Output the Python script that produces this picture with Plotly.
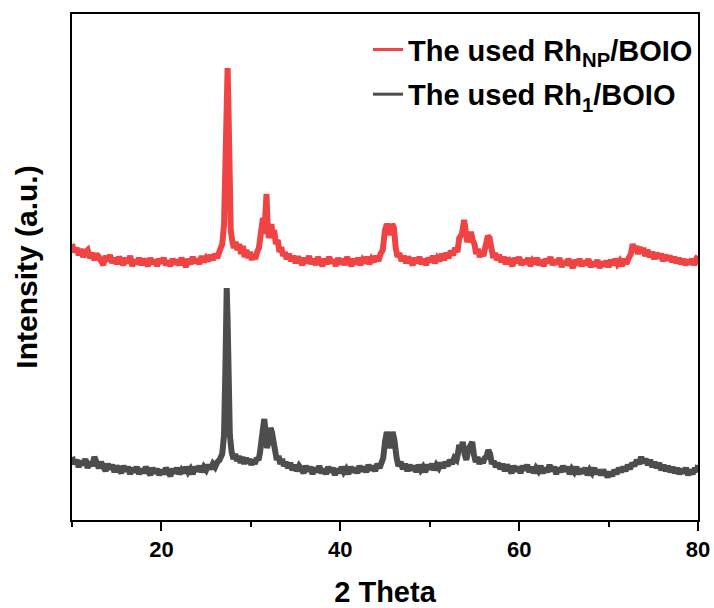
import plotly.graph_objects as go

# ---- data: (2 theta, intensity), arbitrary units, traces offset ----
rh_np_points = [
    (10.0,276),(10.25,268),(10.5,272),(10.75,265),(11.0,271),(11.25,263),(11.5,268),(11.75,270),(12.0,262),(12.25,267),
    (12.5,260),(12.75,266),(13.0,263),(13.25,257),(13.5,255),(13.75,264),(14.0,259),(14.25,265),(14.5,257),(14.75,262),
    (15.0,256),(15.25,263),(15.5,259),(15.75,255),(16.0,262),(16.25,257),(16.5,264),(16.75,254),(17.0,260),(17.25,256),
    (17.5,262),(17.75,255),(18.0,261),(18.25,258),(18.5,254),(18.75,262),(19.0,256),(19.25,260),(19.5,254),(19.75,261),
    (20.0,257),(20.25,262),(20.5,255),(20.75,259),(21.0,254),(21.25,261),(21.5,256),(21.75,260),(22.0,255),(22.25,262),
    (22.5,257),(22.75,253),(23.0,261),(23.25,256),(23.5,263),(23.75,257),(24.0,261),(24.25,256),(24.5,264),(24.75,258),
    (25.0,262),(25.25,259),(25.5,265),(25.75,260),(26.0,266),(26.25,262),(26.5,269),
    (26.8,276),(27.0,295),(27.15,350),(27.3,440),(27.4,452),(27.5,410),(27.6,330),(27.75,290),(27.9,280),(28.1,272),
    (28.3,278),(28.5,270),(28.7,276),(28.9,266),(29.1,274),(29.3,263),(29.5,270),(29.7,262),(29.9,268),(30.1,260),
    (30.3,266),(30.5,261),(30.7,268),(30.9,272),(31.05,282),(31.2,290),(31.35,302),(31.5,286),(31.65,315),(31.75,326),
    (31.85,300),(32.0,282),(32.15,288),(32.3,296),(32.45,282),(32.6,290),(32.8,276),(33.0,280),(33.2,268),(33.4,273),
    (33.6,264),(33.8,268),
    (34.0,261),(34.25,266),(34.5,259),(34.75,264),(35.0,257),(35.25,263),(35.5,260),(35.75,255),(36.0,262),(36.25,257),
    (36.5,264),(36.75,256),(37.0,261),(37.25,255),(37.5,263),(37.75,258),(38.0,254),(38.25,261),(38.5,256),(38.75,263),
    (39.0,257),(39.25,260),(39.5,254),(39.75,262),(40.0,256),(40.25,261),(40.5,255),(40.75,263),(41.0,257),(41.25,254),
    (41.5,261),(41.75,256),(42.0,262),(42.25,255),(42.5,260),(42.75,257),(43.0,263),(43.25,256),(43.5,261),(43.75,258),
    (44.0,264),(44.25,259),(44.5,266),(44.75,270),
    (45.0,290),(45.2,296),(45.4,292),(45.6,285),(45.8,296),(46.0,292),(46.2,272),(46.4,263),
    (46.6,267),(46.85,259),(47.1,264),(47.35,257),(47.6,263),(47.85,258),(48.1,255),(48.35,262),(48.6,257),(48.85,263),
    (49.1,256),(49.35,261),(49.6,255),(49.85,262),(50.1,258),(50.35,264),(50.6,257),(50.85,262),(51.1,259),(51.35,266),
    (51.6,260),(51.85,267),(52.1,262),(52.35,269),(52.6,265),(52.85,272),(53.1,268),
    (53.3,282),(53.6,286),(53.85,300),(54.0,285),(54.2,278),(54.4,283),(54.6,288),(54.8,280),(55.0,276),(55.2,266),
    (55.4,271),(55.6,263),(55.8,268),(56.0,264),(56.2,272),(56.5,284),(56.7,282),(56.9,270),(57.1,262),(57.3,267),
    (57.5,260),(57.75,265),(58.0,258),(58.25,263),(58.5,256),(58.75,262),(59.0,259),(59.25,254),(59.5,262),(59.75,257),
    (60.0,263),(60.25,255),(60.5,260),(60.75,256),(61.0,262),(61.25,254),(61.5,259),(61.75,256),(62.0,262),(62.25,255),
    (62.5,260),(62.75,254),(63.0,261),(63.25,257),(63.5,263),(63.75,255),(64.0,260),(64.25,256),(64.5,262),(64.75,253),
    (65.0,259),(65.25,255),(65.5,261),(65.75,256),(66.0,252),(66.25,260),(66.5,255),(66.75,261),(67.0,254),(67.25,259),
    (67.5,255),(67.75,261),(68.0,253),(68.25,258),(68.5,254),(68.75,260),(69.0,252),(69.25,258),(69.5,254),(69.75,259),
    (70.0,253),(70.25,260),(70.5,255),(70.75,261),(71.0,256),(71.25,259),(71.5,254),(71.75,261),(72.0,256),(72.25,262),
    (72.5,266),(72.7,276),(72.9,268),(73.1,274),(73.3,266),(73.5,273),(73.7,267),(73.9,272),(74.1,264),(74.35,270),
    (74.6,263),(74.85,268),(75.1,261),(75.35,267),(75.6,262),(75.85,266),(76.1,259),(76.35,265),(76.6,260),(76.85,264),
    (77.1,258),(77.35,263),(77.6,257),(77.85,262),(78.1,256),(78.35,261),(78.6,255),(78.85,260),(79.1,256),(79.35,261),
    (79.6,255),(79.85,262),(80.0,264),
]

rh_1_points = [
    (10.0,63),(10.25,56),(10.5,60),(10.75,53),(11.0,59),(11.25,55),(11.5,61),(11.75,52),(12.0,58),(12.25,54),
    (12.5,63),(12.75,56),(13.0,52),(13.25,58),(13.5,54),(13.75,49),(14.0,56),(14.25,51),(14.5,55),(14.75,48),
    (15.0,54),(15.25,50),(15.5,47),(15.75,54),(16.0,49),(16.25,53),(16.5,46),(16.75,52),(17.0,48),(17.25,53),
    (17.5,46),(17.75,51),(18.0,47),(18.25,53),(18.5,49),(18.75,45),(19.0,52),(19.25,47),(19.5,51),(19.75,45),
    (20.0,50),(20.25,46),(20.5,52),(20.75,47),(21.0,44),(21.25,51),(21.5,47),(21.75,52),(22.0,46),(22.25,50),
    (22.5,47),(22.75,53),(23.0,48),(23.25,51),(23.5,46),(23.75,53),(24.0,49),(24.25,54),(24.5,48),(24.75,53),
    (25.0,50),(25.25,55),(25.5,51),(25.75,56),(26.0,53),(26.25,58),(26.5,60),
    (26.8,66),(27.0,85),(27.15,150),(27.25,215),(27.3,232),(27.4,200),(27.5,130),(27.65,85),(27.85,68),(28.05,61),
    (28.25,66),(28.45,59),(28.65,64),(28.85,57),(29.05,63),(29.25,56),(29.45,62),(29.65,57),(29.85,61),(30.05,55),
    (30.25,60),(30.45,56),(30.65,62),(30.85,60),(31.0,66),(31.2,78),(31.35,84),(31.5,101),(31.65,88),(31.8,72),
    (32.0,78),(32.2,92),(32.35,88),(32.5,74),(32.7,70),(32.9,60),(33.1,64),(33.3,56),(33.5,61),(33.7,54),(33.9,58),
    (34.15,52),(34.4,57),(34.65,50),(34.9,55),(35.15,49),(35.4,54),(35.65,51),(35.9,47),(36.15,54),(36.4,49),
    (36.65,53),(36.9,46),(37.15,52),(37.4,48),(37.65,54),(37.9,47),(38.15,51),(38.4,46),(38.65,53),(38.9,48),
    (39.15,52),(39.4,45),(39.65,51),(39.9,47),(40.15,53),(40.4,48),(40.65,51),(40.9,46),(41.15,53),(41.4,48),
    (41.65,52),(41.9,47),(42.15,54),(42.4,49),(42.65,53),(42.9,48),(43.15,55),(43.4,50),(43.65,54),(43.9,49),
    (44.15,56),(44.4,52),(44.6,57),
    (44.8,62),(45.0,78),(45.2,88),(45.4,80),(45.6,72),(45.85,88),(46.05,80),(46.3,62),(46.5,54),
    (46.75,58),(47.0,51),(47.25,56),(47.5,49),(47.75,55),(48.0,50),(48.25,54),(48.5,48),(48.75,55),(49.0,50),
    (49.25,53),(49.5,48),(49.75,55),(50.0,51),(50.25,56),(50.5,50),(50.75,55),(51.0,52),(51.25,57),(51.5,52),
    (51.75,58),(52.0,54),(52.25,60),(52.5,56),(52.75,62),(53.0,60),(53.15,66),
    (53.3,75),(53.5,70),(53.7,78),(53.9,66),(54.1,60),(54.3,70),(54.55,76),(54.75,78),(54.95,65),(55.15,58),
    (55.35,63),(55.55,56),(55.75,61),(55.95,57),(56.15,62),(56.35,63),(56.55,70),(56.75,66),(56.95,56),(57.15,59),
    (57.4,53),(57.65,57),(57.9,51),(58.15,56),(58.4,49),(58.65,55),(58.9,51),(59.15,47),(59.4,54),(59.65,49),
    (59.9,53),(60.15,47),(60.4,54),(60.65,50),(60.9,55),(61.15,48),(61.4,53),(61.65,47),(61.9,52),(62.15,49),
    (62.4,54),(62.65,47),(62.9,52),(63.15,48),(63.4,55),(63.65,49),(63.9,53),(64.15,46),(64.4,52),(64.65,48),
    (64.9,54),(65.15,49),(65.4,53),(65.65,46),(65.9,51),(66.15,48),(66.4,53),(66.65,46),(66.9,51),(67.15,47),
    (67.4,52),(67.65,45),(67.9,50),(68.15,47),(68.4,52),(68.65,46),(68.9,50),(69.15,45),(69.4,50),(69.65,46),
    (69.9,43),(70.15,48),(70.4,44),(70.65,50),(70.9,46),(71.15,52),(71.4,48),(71.65,53),(71.9,49),(72.15,55),
    (72.4,51),(72.65,57),(72.9,54),(73.15,60),(73.4,56),(73.65,63),(73.9,57),(74.15,61),(74.4,55),(74.65,60),
    (74.9,53),(75.15,58),(75.4,52),(75.65,57),(75.9,50),(76.15,55),(76.4,49),(76.65,54),(76.9,48),(77.15,53),
    (77.4,47),(77.65,52),(77.9,46),(78.15,51),(78.4,47),(78.65,52),(78.9,45),(79.15,50),(79.4,46),(79.65,52),
    (79.9,48),(80.0,55),
]

two_theta_np = [p[0] for p in rh_np_points]
intensity_np = [p[1] for p in rh_np_points]
two_theta_1 = [p[0] for p in rh_1_points]
intensity_1 = [p[1] for p in rh_1_points]

x_ticks = [20, 40, 60, 80]
x_minor_ticks = [10, 30, 50, 70]
name_np = "The used Rh<sub>NP</sub>/BOIO"
name_1 = "The used Rh<sub>1</sub>/BOIO"
color_np = "#F04444"
color_1 = "#4D4D4D"

FONT = "Liberation Sans, Arial, sans-serif"

fig = go.Figure()
fig.add_trace(go.Scatter(x=two_theta_np, y=intensity_np, mode="lines", showlegend=False,
                         line=dict(color=color_np, width=6, shape="linear")))
fig.add_trace(go.Scatter(x=two_theta_1, y=intensity_1, mode="lines", showlegend=False,
                         line=dict(color=color_1, width=6, shape="linear")))
# legend entries (thin sample lines like the reference)
fig.add_trace(go.Scatter(x=[None], y=[None], mode="lines", name=name_np, legendgroup="a",
                         line=dict(color=color_np, width=3)))
fig.add_trace(go.Scatter(x=[None], y=[None], mode="lines", name=name_1, legendgroup="b",
                         line=dict(color=color_1, width=3)))

fig.update_layout(
    width=714, height=608,
    margin=dict(l=72, r=16, t=14, b=88, autoexpand=False),
    paper_bgcolor="white", plot_bgcolor="white",
    font=dict(family=FONT, color="black"),
    showlegend=True,
    legend=dict(x=1.0, y=0.98, xanchor="right", yanchor="top",
                font=dict(family=FONT, size=29, color="black", weight="bold"),
                bgcolor="rgba(0,0,0,0)", tracegroupgap=4,
                itemwidth=30),
    xaxis=dict(range=[10, 80], tickvals=x_ticks, ticks="outside", ticklen=9, tickwidth=2,
               tickcolor="black", showline=True, linecolor="black", linewidth=2, mirror=True,
               showgrid=False, zeroline=False, automargin=False,
               tickfont=dict(family=FONT, size=22, color="black", weight="bold"),
               minor=dict(tickvals=x_minor_ticks, ticks="outside", ticklen=5, tickwidth=2,
                          tickcolor="black"),
               title=dict(text="2 Theta", font=dict(family=FONT, size=29, color="black", weight="bold"),
                          standoff=27)),
    yaxis=dict(range=[0, 506], showticklabels=False, ticks="", showline=True, linecolor="black",
               linewidth=2, mirror=True, showgrid=False, zeroline=False, automargin=False,
               title=dict(text="Intensity (a.u.)", font=dict(family=FONT, size=30, color="black", weight="bold"),
                          standoff=24)),
)

fig.write_html("out.html")
